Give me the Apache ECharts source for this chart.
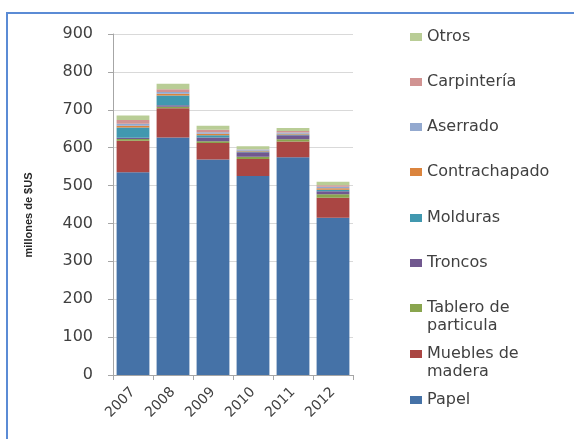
<!DOCTYPE html>
<html>
<head>
<meta charset="utf-8">
<script src="https://cdn.jsdelivr.net/npm/echarts@6/dist/echarts.min.js"></script>
<style>html,body{margin:0;padding:0;background:#fff}#c{width:574px;height:439px}</style>
</head>
<body>
<div id="c"></div>
<script>
var categories = ['2007', '2008', '2009', '2010', '2011', '2012'];
var papel = [535, 627, 569, 525, 575, 415];
var muebles = [83, 77, 43, 45, 41, 53];
var tablero = [5, 4, 5, 6, 6, 9];
var troncos = [3, 4, 10, 12, 11, 8];
var molduras = [27, 26, 6, 2, 2, 4];
var contrachapado = [5, 4, 4, 2, 2, 4];
var aserrado = [5, 5, 4, 3, 3, 4];
var carpinteria = [10, 7, 6, 1, 4, 4];
var otros = [12, 15, 11, 8, 8, 9];
var yTicks = [0, 100, 200, 300, 400, 500, 600, 700, 800, 900];

var seriesDefs = [
  {name: 'Papel', label: 'Papel', data: papel, color: '#4572A7', y: 400},
  {name: 'Muebles de madera', label: 'Muebles de\nmadera', data: muebles, color: '#AA4643', y: 354},
  {name: 'Tablero de particula', label: 'Tablero de\nparticula', data: tablero, color: '#89A54E', y: 308},
  {name: 'Troncos', label: 'Troncos', data: troncos, color: '#71588F', y: 263},
  {name: 'Molduras', label: 'Molduras', data: molduras, color: '#4198AF', y: 218},
  {name: 'Contrachapado', label: 'Contrachapado', data: contrachapado, color: '#DB843D', y: 172},
  {name: 'Aserrado', label: 'Aserrado', data: aserrado, color: '#93A9CF', y: 127},
  {name: 'Carpintería', label: 'Carpintería', data: carpinteria, color: '#D19392', y: 82},
  {name: 'Otros', label: 'Otros', data: otros, color: '#B9CD96', y: 37}
];

var font = 'DejaVu Sans';
var legends = seriesDefs.map(function (s) {
  var two = s.label.indexOf('\n') >= 0;
  var shown = two ? ' \n' + s.label : s.label;
  return {
    orient: 'vertical',
    left: 410,
    top: two ? s.y - 27 : s.y - 9,
    padding: 0,
    itemWidth: 12,
    itemHeight: 8,
    itemGap: 4,
    selectedMode: false,
    icon: 'rect',
    data: [s.name],
    formatter: function () { return shown; },
    textStyle: {
      fontFamily: font, fontSize: 16, color: '#404040', lineHeight: 18
    }
  };
});

var option = {
  animation: false,
  backgroundColor: '#fff',
  grid: {left: 113, right: 221, top: 34, bottom: 64},
  legend: legends,
  xAxis: {
    type: 'category',
    data: categories,
    axisLine: {lineStyle: {color: '#a6a6a6'}},
    axisTick: {show: true, length: 5, lineStyle: {color: '#a6a6a6'}},
    axisLabel: {rotate: 45, fontFamily: font, fontSize: 14, color: '#404040', margin: 15}
  },
  yAxis: {
    type: 'value',
    min: yTicks[0],
    max: yTicks[yTicks.length - 1],
    interval: 100,
    axisLine: {show: true, lineStyle: {color: '#a6a6a6'}},
    axisTick: {show: true, length: 5, lineStyle: {color: '#a6a6a6'}},
    splitLine: {lineStyle: {color: '#d9d9d9'}},
    axisLabel: {fontFamily: font, fontSize: 16, color: '#404040', margin: 20}
  },
  graphic: [
    {type: 'rect', shape: {x: 7, y: 13, width: 620, height: 500}, style: {fill: 'none', stroke: '#5B8BD5', lineWidth: 2}, silent: true},
    {type: 'text', x: 29, y: 215, rotation: Math.PI / 2,
      style: {text: 'millones de $US', fontFamily: 'Liberation Sans Narrow, Liberation Sans', fontSize: 11, fontWeight: 'bold', fill: '#262626', align: 'center', verticalAlign: 'middle'}}
  ],
  series: seriesDefs.map(function (s) {
    return {
      name: s.name,
      type: 'bar',
      stack: 'total',
      barCategoryGap: '18%',
      itemStyle: {color: s.color},
      data: s.data
    };
  })
};

echarts.init(document.getElementById('c')).setOption(option);
</script>
</body>
</html>
